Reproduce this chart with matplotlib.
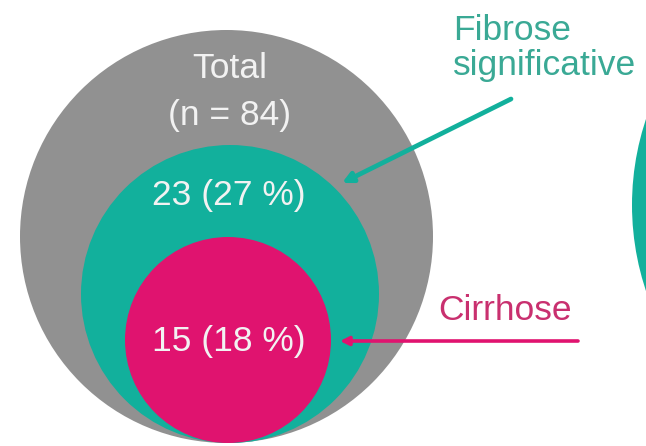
import matplotlib
matplotlib.use("Agg")
import matplotlib.pyplot as plt
from matplotlib.patches import Circle

# ---- data ----
total_label = "Total"
total_n = 84
group_labels = ["Fibrose\nsignificative", "Cirrhose"]
group_counts = [23, 15]
group_pcts = [27, 18]

# ---- styles / layout ----
GREY = "#919191"
TEAL = "#12b09c"
MAGENTA = "#e0136f"
TEAL_TXT = "#3aa995"
MAG_TXT = "#c9306f"
INNER_TXT = "#f2f2f2"
FS = 25.5
plt.rcParams["font.family"] = ["Liberation Sans", "DejaVu Sans"]

W, H = 646, 446
fig = plt.figure(figsize=(W / 100, H / 100), dpi=100)
ax = fig.add_axes([0, 0, 1, 1])
ax.set_xlim(0, W)
ax.set_ylim(H, 0)
ax.set_aspect("equal")
ax.axis("off")

# nested circles tangent at bottom
bottom = 443
circles = [(226.5, 206.5, GREY), (230, 149, TEAL), (228, 103, MAGENTA)]
for cx, r, col in circles:
    ax.add_patch(Circle((cx, bottom - r), r, facecolor=col, edgecolor="none"))

# partial circle at right edge
ax.add_patch(Circle((903, 205), 271, facecolor=TEAL, edgecolor="none"))

# inner texts
ax.text(230, 68, total_label, ha="center", va="center", fontsize=FS, color=INNER_TXT)
ax.text(230, 116, f"(n = {total_n})", ha="center", va="center", fontsize=FS, color=INNER_TXT)
ax.text(229, 195, f"{group_counts[0]} ({group_pcts[0]} %)", ha="center", va="center",
        fontsize=FS, color=INNER_TXT)
ax.text(229, 342, f"{group_counts[1]} ({group_pcts[1]} %)", ha="center", va="center",
        fontsize=FS, color=INNER_TXT)

# outer labels
ax.text(453, 48, group_labels[0], ha="left", va="center", fontsize=FS, color=TEAL_TXT,
        linespacing=1.1)
ax.text(438, 310, group_labels[1], ha="left", va="center", fontsize=FS, color=MAG_TXT)

# arrows
ax.annotate("", xy=(342, 183), xytext=(511, 99),
            arrowprops=dict(arrowstyle="-|>,head_length=0.6,head_width=0.3",
                            color=TEAL, lw=3.4, shrinkA=0, shrinkB=0))
ax.annotate("", xy=(340, 341), xytext=(578, 341),
            arrowprops=dict(arrowstyle="-|>,head_length=0.5,head_width=0.25",
                            color=MAGENTA, lw=2.6, shrinkA=0, shrinkB=0))

fig.savefig("out.png", dpi=100)
